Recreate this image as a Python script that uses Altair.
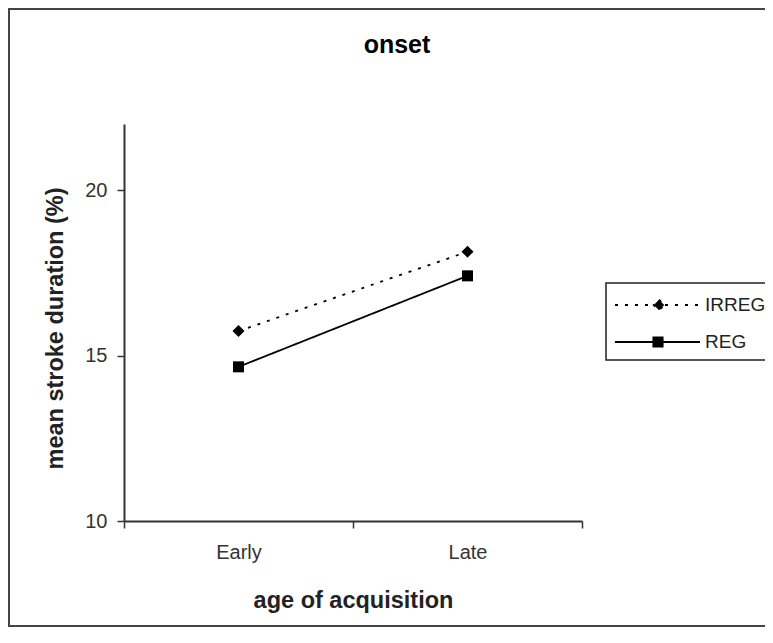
import altair as alt
import pandas as pd

# ---- data ----
categories = ["Early", "Late"]
series_names = ["IRREG", "REG"]
irreg_values = [15.74, 18.14]
reg_values = [14.66, 17.41]
y_ticks = [10, 15, 20]
y_domain = [10, 22]

rows = []
for s, vals in zip(series_names, [irreg_values, reg_values]):
    for c, v in zip(categories, vals):
        rows.append({"age": c, "series": s, "value": v})
df = pd.DataFrame(rows)

FONT = "Liberation Sans"
W, H = 458, 397
PAD_L, PAD_T, PAD_R, PAD_B = 116, 116, 183, 107

dash_range = [[3, 7], [1, 0]]
# legend symbols: a line with the marker in its middle (unit coords, 13px per unit)
irreg_sym = "M-1,0L5.54,0M2.385,-0.4L2.785,0L2.385,0.4L1.985,0Z"
reg_sym = "M-1,0L5.54,0M1.958,-0.35L2.658,-0.35L2.658,0.35L1.958,0.35Z"

x_enc = alt.X(
    "age:N",
    sort=categories,
    bandPosition=0.5,
    scale=alt.Scale(type="band", domain=categories, paddingInner=0, paddingOuter=0),
    axis=alt.Axis(
        title="age of acquisition",
        labelAngle=0,
        tickBand="extent",
        domainColor="#333",
        domainWidth=2,
        tickColor="#333",
        tickWidth=1.5,
        tickSize=7,
        labelFont=FONT,
        labelFontSize=20,
        labelColor="#333",
        labelPadding=14,
        titleFont=FONT,
        titleFontSize=23.5,
        titleFontWeight="bold",
        titleColor="#222",
        titleX=229,
        titleY=86,
        titleBaseline="alphabetic",
        titleAlign="center",
    ),
)
y_enc = alt.Y(
    "value:Q",
    scale=alt.Scale(domain=y_domain, nice=False, zero=False),
    axis=alt.Axis(
        title="mean stroke duration (%)",
        values=y_ticks,
        grid=False,
        domainColor="#333",
        domainWidth=2,
        tickColor="#333",
        tickWidth=1.5,
        tickSize=7,
        labelFont=FONT,
        labelFontSize=20,
        labelColor="#333",
        labelPadding=10,
        titleFont=FONT,
        titleFontSize=23.5,
        titleFontWeight="bold",
        titleColor="#222",
        titleX=-62,
        titleY=204,
        titleAngle=270,
        titleBaseline="alphabetic",
        titleAlign="center",
    ),
)

base = alt.Chart(df)

lines = base.mark_line(color="black", strokeWidth=1.8).encode(
    x=x_enc,
    y=y_enc,
    strokeDash=alt.StrokeDash(
        "series:N", scale=alt.Scale(domain=series_names, range=dash_range), legend=None
    ),
)

points = base.mark_point(filled=True, color="black", opacity=1).encode(
    x=x_enc,
    y=y_enc,
    shape=alt.Shape(
        "series:N", scale=alt.Scale(domain=series_names, range=["diamond", "square"]), legend=None
    ),
    size=alt.Size("series:N", scale=alt.Scale(domain=series_names, range=[144, 121]), legend=None),
)

leg_def = dict(
    title=None,
    orient="none",
    legendX=482,
    legendY=159,
    padding=8,
    rowPadding=13,
    labelOffset=63,
    symbolSize=676,
    symbolStrokeWidth=2,
    strokeColor="#222",
    fillColor="white",
    labelFont=FONT,
    labelFontSize=19,
    labelColor="#222",
    labelLimit=300,
)

legend_layer = (
    base.transform_filter("false")
    .mark_point(filled=False, fill="black", stroke="black", strokeWidth=2, opacity=1)
    .encode(
        shape=alt.Shape(
            "series:N",
            scale=alt.Scale(domain=series_names, range=[irreg_sym, reg_sym]),
            legend=alt.Legend(**leg_def),
        ),
        strokeDash=alt.StrokeDash(
            "series:N",
            scale=alt.Scale(domain=series_names, range=dash_range),
            legend=alt.Legend(**leg_def),
        ),
    )
)

frame = (
    alt.Chart(pd.DataFrame({"k": [0]}))
    .mark_rect(fillOpacity=0, stroke="#444", strokeWidth=2)
    .encode(
        x=alt.value(-115),
        x2=alt.value(W + PAD_R + 30),
        y=alt.value(-115),
        y2=alt.value(H + PAD_B - 2),
    )
)

chart = (
    alt.layer(frame, lines, points, legend_layer)
    .resolve_scale(shape="independent", strokeDash="independent", size="independent")
    .properties(
        width=W,
        height=H,
        autosize=alt.AutoSizeParams(type="none"),
        padding={"left": PAD_L, "top": PAD_T, "right": PAD_R, "bottom": PAD_B},
        background="white",
        title=alt.TitleParams(
            "onset",
            font=FONT,
            fontSize=25,
            fontWeight="bold",
            color="black",
            anchor="middle",
            frame="group",
            dx=44,
            dy=70,
            offset=0,
            baseline="alphabetic",
        ),
    )
    .configure_view(stroke=None)
    .configure_legend(strokeWidth=1.5)
)

chart.save("out.html", embed_options={"renderer": "svg", "actions": False})
